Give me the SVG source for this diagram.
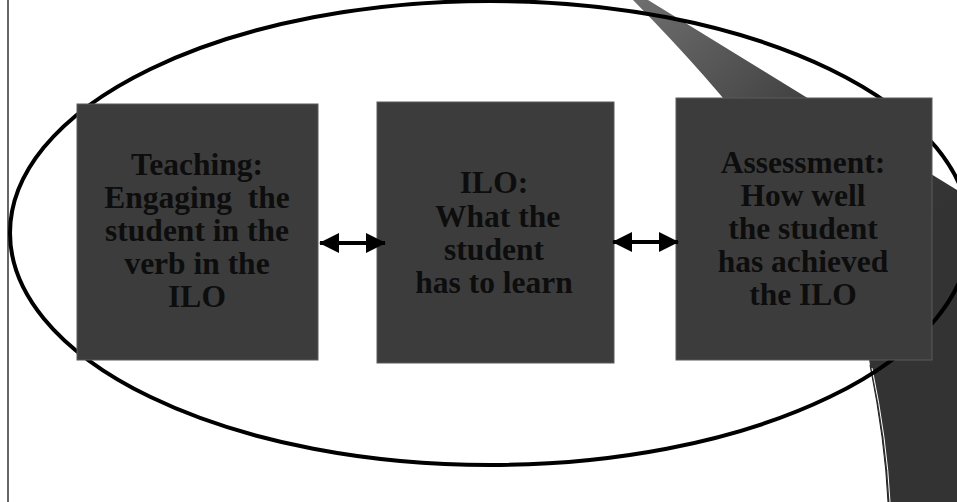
<svg xmlns="http://www.w3.org/2000/svg" width="957" height="502" viewBox="0 0 957 502">
  <defs>
    <linearGradient id="curlShade" gradientUnits="userSpaceOnUse" x1="640" y1="0" x2="900" y2="260">
      <stop offset="0" stop-color="#6e6e6e"/>
      <stop offset="0.55" stop-color="#3e3e3e"/>
      <stop offset="1" stop-color="#333333"/>
    </linearGradient>
    <marker id="head" viewBox="0 0 20 20" refX="19" refY="10" markerWidth="20" markerHeight="20" markerUnits="userSpaceOnUse" orient="auto-start-reverse">
      <path d="M0,0 L20,10 L0,20 Z" fill="#000"/>
    </marker>
  </defs>
  <style>
    .box { fill: #3c3c3c; stroke: #5a5a5a; stroke-width: 1; }
    .label { font-family: "Liberation Serif", "Times New Roman", serif; font-weight: bold; font-size: 31.5px; fill: #0d0d0d; text-anchor: middle; }
    .link { stroke: #000; stroke-width: 4; fill: none; marker-start: url(#head); marker-end: url(#head); }
  </style>

  <rect x="0" y="0" width="957" height="502" fill="#ffffff"/>

  <!-- slide border on the left -->
  <line x1="8" y1="0" x2="8" y2="502" stroke="#333" stroke-width="1.5"/>

  <!-- curled band at the right -->
  <g id="curl">
    <path d="M633,0 L648,0 L957,190 L957,502 L888,502 Q885,440 870,365 Q850,220 633,0 Z" fill="url(#curlShade)"/>
    <path d="M870,365 Q885,440 888,502" fill="none" stroke="#1e1e1e" stroke-width="1"/>
    <path d="M872,368 Q887,440 890,502" fill="none" stroke="#ffffff" stroke-width="1"/>
  </g>

  <!-- enclosing ellipse -->
  <ellipse id="frame" cx="490" cy="233" rx="480" ry="232" fill="none" stroke="#000" stroke-width="4"/>

  <g id="teaching">
    <rect class="box" x="77" y="104" width="241" height="256"/>
    <text class="label" x="197" y="175">Teaching:</text>
    <text class="label" x="197" y="208" xml:space="preserve">Engaging  the</text>
    <text class="label" x="197" y="241">student in the</text>
    <text class="label" x="197" y="274">verb in the</text>
    <text class="label" x="197" y="307">ILO</text>
  </g>

  <g id="ilo">
    <rect class="box" x="377" y="102" width="237" height="261"/>
    <text class="label" x="494" y="193">ILO:</text>
    <text class="label" x="494" y="227" xml:space="preserve"> What the</text>
    <text class="label" x="494" y="260">student</text>
    <text class="label" x="494" y="293">has to learn</text>
  </g>

  <g id="assessment">
    <rect class="box" x="676" y="98" width="256" height="262"/>
    <text class="label" x="803" y="173">Assessment:</text>
    <text class="label" x="803" y="206">How well</text>
    <text class="label" x="803" y="239">the student</text>
    <text class="label" x="803" y="272">has achieved</text>
    <text class="label" x="803" y="305">the ILO</text>
  </g>

  <g id="connectors">
    <line class="link" x1="320" y1="243" x2="385" y2="243"/>
    <line class="link" x1="613" y1="242" x2="678" y2="242"/>
  </g>
</svg>
